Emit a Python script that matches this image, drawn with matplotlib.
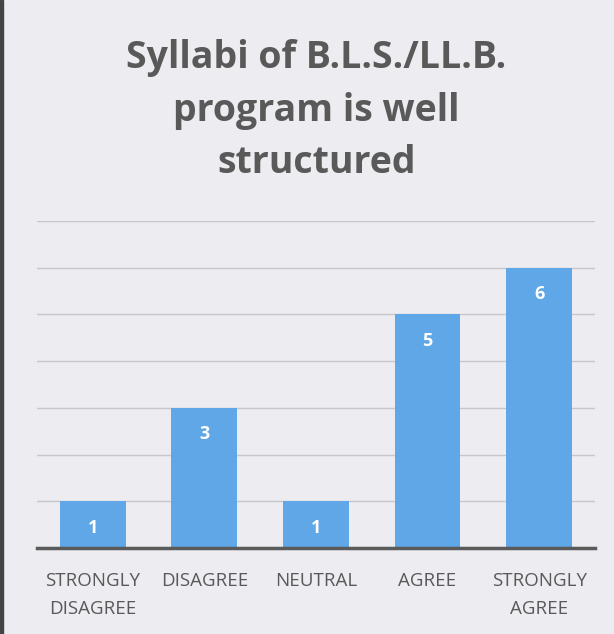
import numpy as np
import matplotlib
matplotlib.use("Agg")
import matplotlib.pyplot as plt
from matplotlib.patches import Rectangle

categories = ["STRONGLY\nDISAGREE", "DISAGREE", "NEUTRAL", "AGREE", "STRONGLY\nAGREE"]
counts = [1, 3, 1, 5, 6]
title = "Syllabi of B.L.S./LL.B.\nprogram is well\nstructured"

bg = "#ececf1"
barColor = "#5fa7e6"
textColor = "#595959"

plt.rcParams['font.family'] = ['Open Sans', 'DejaVu Sans']

fig = plt.figure(figsize=(6.14, 6.34), dpi=100, facecolor=bg)
ax = fig.add_axes([0.060, 0.1356, 0.909, 0.516])
ax.set_facecolor(bg)

x = np.arange(len(categories))
bars = ax.bar(x, counts, width=0.59, color=barColor, zorder=3)
for b, v in zip(bars, counts):
    ax.annotate(str(v), (b.get_x() + b.get_width() / 2, v), xytext=(0, -19),
                textcoords="offset points", ha="center", va="center",
                color="white", fontsize=13, fontweight="bold", zorder=4)

ax.set_xlim(-0.5, len(categories) - 0.5)
ax.set_ylim(0, 7)
ax.set_yticks(np.arange(1, 8))
ax.yaxis.grid(True, color="#c6c6cb", linewidth=1.0, zorder=0)
ax.tick_params(axis="y", left=False, labelleft=False)
ax.set_xticks(x, labels=categories)
ax.tick_params(axis="x", length=0, pad=17, labelsize=13.5, labelcolor=textColor)
for lbl in ax.get_xticklabels():
    lbl.set_linespacing(1.75)
for s in ["top", "right", "left"]:
    ax.spines[s].set_visible(False)
ax.spines["bottom"].set_color("#5a5a5a")
ax.spines["bottom"].set_linewidth(2.5)
ax.spines["bottom"].set_zorder(5)

fig.text(0.515, 0.825, title, ha="center", va="center", fontsize=27,
         fontweight="bold", color=textColor, linespacing=1.5)

# dark scan edge on the left
fig.patches.append(Rectangle((0, 0), 0.005, 1, transform=fig.transFigure,
                             color="#444444", zorder=10))

fig.savefig("out.png", dpi=100, facecolor=bg)
